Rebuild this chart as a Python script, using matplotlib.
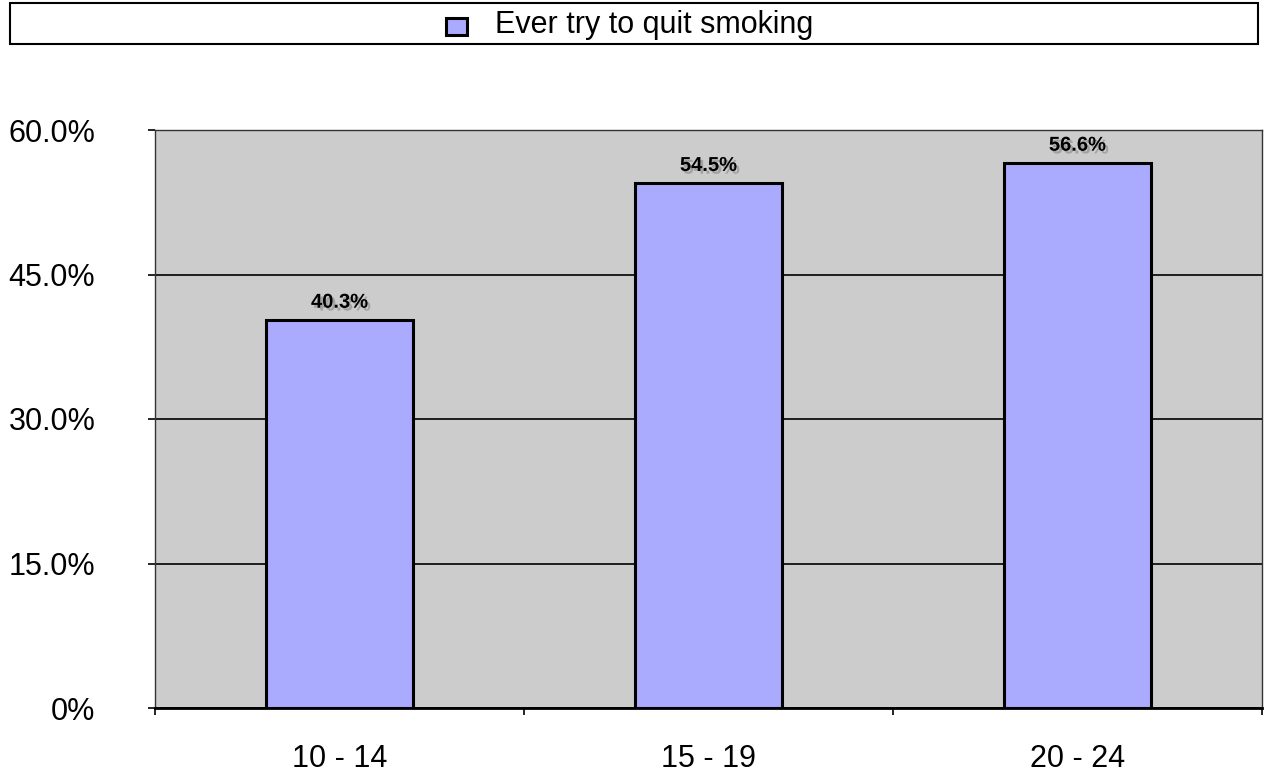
import numpy as np
import matplotlib.pyplot as plt
import matplotlib.patheffects as pe
from matplotlib.patches import Rectangle

plt.rcParams['font.family'] = ['Liberation Sans', 'DejaVu Sans']

# Datos
grupos = ['10 - 14', '15 - 19', '20 - 24']
valores = [40.3, 54.5, 56.6]
serie = 'Ever try to quit smoking'
yticks = [0, 15, 30, 45, 60]
ylabels = ['0%', '15.0%', '30.0%', '45.0%', '60.0%']

W, H = 1265, 780
fig = plt.figure(figsize=(W/100, H/100), dpi=100)
ax = fig.add_axes([155/W, 1 - 708/H, (1262 - 155)/W, (708 - 130)/H])
ax.set_facecolor('#cccccc')

x = np.arange(len(grupos))
ax.bar(x, valores, width=0.4, color='#aaaaff', edgecolor='black', linewidth=2.2, zorder=3)

# Etiquetas con sombra
sombra = [pe.SimplePatchShadow(offset=(2, -2), shadow_rgbFace='#444444', alpha=0.3), pe.Normal()]
for xi, v in zip(x, valores):
    ax.text(xi, v + 1.25, f'{v:.1f}%', ha='center', va='baseline', fontsize=14.5, fontweight='bold',
            path_effects=sombra, zorder=4)

ax.set_xlim(-0.5, 2.5)
ax.set_ylim(0, 60)
ax.set_yticks(yticks)
ax.set_yticklabels(ylabels, fontsize=22)
ax.yaxis.grid(True, color='black', linewidth=1.2, zorder=1)
ax.set_axisbelow(True)

ax.set_xticks(x)
ax.set_xticklabels(grupos, fontsize=22)
ax.tick_params(axis='x', length=0, pad=26)
ax.set_xticks([-0.5, 0.5, 1.5, 2.5], minor=True)
ax.tick_params(axis='x', which='minor', length=5, width=1.2, direction='out')
ax.tick_params(axis='y', length=5, width=1.2, direction='out', pad=38)

for lado in ['left', 'right', 'top']:
    ax.spines[lado].set_color('#333333')
    ax.spines[lado].set_linewidth(1.0)
ax.spines['bottom'].set_linewidth(2.0)

# Leyenda en caja superior
fig.patches.append(Rectangle((10/W, 1 - 44/H), 1248/W, 41/H, transform=fig.transFigure,
                             facecolor='white', edgecolor='black', linewidth=1.5))
fig.patches.append(Rectangle((446/W, 1 - 35/H), 21/W, 17/H, transform=fig.transFigure,
                             facecolor='#aaaaff', edgecolor='black', linewidth=2.2))
fig.text(495/W, 1 - 33/H, serie, fontsize=22, va='baseline', ha='left')

fig.savefig('out.png', dpi=100)
